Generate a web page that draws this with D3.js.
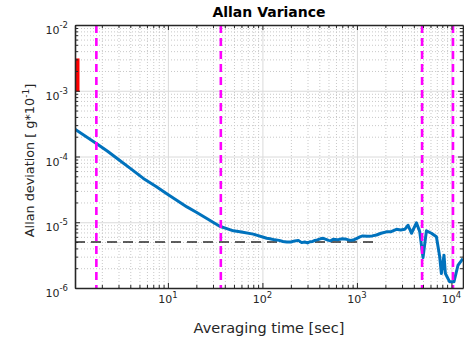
<!DOCTYPE html>
<html>
<head>
<meta charset="utf-8">
<script src="https://d3js.org/d3.v7.min.js"></script>
<style>
body { margin:0; background:#fff; }
svg { display:block; font-family:"DejaVu Sans", sans-serif; }
</style>
</head>
<body>
<svg id="drawing_region"></svg>
<script>
// averaging time [sec] and allan deviation
const tau = [1.04, 1.75, 2.3, 3.0, 4.0, 5.5, 7.5, 10, 12.5, 15.9, 20, 25.8, 30, 35.7, 42, 49.3,
    60, 80, 111, 120, 135, 150, 165, 181, 200, 220, 240, 260, 280, 300, 318, 340, 360, 380,
    410, 440, 470, 500, 530, 561, 620, 700, 780, 850, 912, 1000, 1074, 1150, 1300, 1450, 1611,
    1800, 2054, 2300, 2620, 2900, 3206, 3475, 3776, 4260, 4617, 5003, 5433, 6138, 6934, 7506,
    7824, 8337, 8625, 9575, 10620, 11710, 13220];
const adev = [2.59e-4, 1.58e-4, 1.2e-4, 9.0e-5, 6.6e-5, 4.64e-5, 3.5e-5, 2.65e-5, 2.15e-5,
    1.71e-5, 1.42e-5, 1.14e-5, 1.0e-5, 8.6e-6, 8.0e-6, 7.4e-6, 7.1e-6, 6.6e-6, 5.7e-6, 5.6e-6,
    5.4e-6, 5.3e-6, 5.1e-6, 5.0e-6, 5.0e-6, 5.2e-6, 5.3e-6, 4.9e-6, 5.0e-6, 4.85e-6, 5.05e-6,
    5.1e-6, 5.3e-6, 5.4e-6, 5.6e-6, 5.7e-6, 5.5e-6, 5.3e-6, 5.25e-6, 5.5e-6, 5.4e-6, 5.6e-6,
    5.5e-6, 5.3e-6, 5.35e-6, 5.7e-6, 6.0e-6, 6.2e-6, 6.1e-6, 6.2e-6, 6.4e-6, 6.8e-6, 7.15e-6,
    7.2e-6, 7.8e-6, 7.6e-6, 7.8e-6, 9.0e-6, 6.8e-6, 9.8e-6, 7.2e-6, 2.9e-6, 7.4e-6, 6.8e-6,
    6.0e-6, 3.0e-6, 1.66e-6, 3.15e-6, 1.66e-6, 1.24e-6, 1.24e-6, 2.2e-6, 2.8e-6];

// vertical markers (magenta) and reference level (black dashed)
const marker_tau = [1.75, 36.3, 4890, 10380];
const ref_level = 5e-6;
const ref_tau = [1.04, 1610];
// red bar at the left edge
const red_tau = 1.04;
const red_range = [0.97e-3, 3.1e-3];

const x_domain = [1.04, 13250];
const y_domain = [1e-6, 1e-2];
const x_major = [10, 100, 1000, 10000];
const y_major = [1e-6, 1e-5, 1e-4, 1e-3, 1e-2];

var config = {
    width: 464,
    height: 337,
    margin: {top:25, right:1, bottom:49, left:75}
};

const svg = d3.select('#drawing_region')
    .attr('width', config.width)
    .attr('height', config.height);

const inner_width = config.width - config.margin.left - config.margin.right;
const inner_height = config.height - config.margin.top - config.margin.bottom;

const chart = svg.append('g')
    .attr('transform', `translate(${config.margin.left}, ${config.margin.top})`);

const xscale = d3.scaleLog().domain(x_domain).range([0, inner_width]);
const yscale = d3.scaleLog().domain(y_domain).range([inner_height, 0]);

// minor ticks 2..9 per decade inside the domain
function minors(dom) {
    let out = [];
    for (let e = Math.floor(Math.log10(dom[0])); e <= Math.ceil(Math.log10(dom[1])); e++) {
        for (let m = 2; m <= 9; m++) {
            let v = m * Math.pow(10, e);
            if (v > dom[0] && v < dom[1]) out.push(v);
        }
    }
    return out;
}
const x_minor = minors(x_domain);
const y_minor = minors(y_domain);

chart.append('defs').append('clipPath').attr('id', 'clip')
    .append('rect').attr('width', inner_width).attr('height', inner_height);

// grid
function grid(g, color, dash) {
    g.select('.domain').remove();
    g.selectAll('line').attr('stroke', color).attr('stroke-dasharray', dash);
}
chart.append('g')
    .attr('transform', `translate(0, ${inner_height})`)
    .call(d3.axisBottom(xscale).tickValues(x_minor).tickSize(-inner_height).tickFormat(''))
    .call(g => grid(g, '#c8c8c8', '1,2'));
chart.append('g')
    .call(d3.axisLeft(yscale).tickValues(y_minor).tickSize(-inner_width).tickFormat(''))
    .call(g => grid(g, '#c8c8c8', '1,2'));
chart.append('g')
    .attr('transform', `translate(0, ${inner_height})`)
    .call(d3.axisBottom(xscale).tickValues(x_major).tickSize(-inner_height).tickFormat(''))
    .call(g => grid(g, '#dadada', null));
chart.append('g')
    .call(d3.axisLeft(yscale).tickValues(y_major).tickSize(-inner_width).tickFormat(''))
    .call(g => grid(g, '#dadada', null));

const plot = chart.append('g').attr('clip-path', 'url(#clip)');

// reference level
plot.append('line')
    .attr('x1', xscale(ref_tau[0])).attr('x2', xscale(ref_tau[1]))
    .attr('y1', yscale(ref_level)).attr('y2', yscale(ref_level))
    .attr('stroke', '#2b2b2b').attr('stroke-width', 1.5)
    .attr('stroke-dasharray', '10,6');

// allan deviation curve
const line = d3.line()
    .x((d, i) => xscale(tau[i]))
    .y(d => yscale(d));
plot.append('path')
    .datum(adev)
    .attr('d', line)
    .attr('fill', 'none')
    .attr('stroke', '#0072BD')
    .attr('stroke-width', 3)
    .attr('stroke-linejoin', 'round');

plot.append('line')
    .attr('x1', xscale(red_tau)).attr('x2', xscale(red_tau))
    .attr('y1', yscale(red_range[0])).attr('y2', yscale(red_range[1]))
    .attr('stroke', '#ff0000').attr('stroke-width', 9);

plot.selectAll('.marker')
    .data(marker_tau)
    .enter()
    .append('line')
    .attr('x1', d => xscale(d)).attr('x2', d => xscale(d))
    .attr('y1', 0).attr('y2', inner_height)
    .attr('stroke', '#ff00ff').attr('stroke-width', 2.6)
    .attr('stroke-dasharray', '8,5');

// axes with inward ticks on all four sides
function ticks(g) {
    g.selectAll('text').remove();
    g.selectAll('line').attr('stroke', '#262626');
    g.select('.domain').attr('stroke', '#262626').attr('stroke-width', 1.6);
}
const sides = [
    {axis: d3.axisBottom(xscale), t: `translate(0, ${inner_height})`, major: x_major, minor: x_minor},
    {axis: d3.axisTop(xscale), t: 'translate(0, 0)', major: x_major, minor: x_minor},
    {axis: d3.axisLeft(yscale), t: 'translate(0, 0)', major: y_major, minor: y_minor},
    {axis: d3.axisRight(yscale), t: `translate(${inner_width}, 0)`, major: y_major, minor: y_minor}
];
sides.forEach(s => {
    chart.append('g').attr('transform', s.t)
        .call(s.axis.tickValues(s.minor).tickSizeInner(-3).tickSizeOuter(0).tickFormat(''))
        .call(g => { g.select('.domain').remove(); g.selectAll('line').attr('stroke', '#262626'); });
    chart.append('g').attr('transform', s.t)
        .call(s.axis.tickValues(s.major).tickSizeInner(-5).tickSizeOuter(0).tickFormat(''))
        .call(g => ticks(g));
});

// tick labels 10^n
const xlab = chart.selectAll('.xlab')
    .data(x_major)
    .enter()
    .append('text')
    .attr('x', d => xscale(d))
    .attr('y', inner_height + 15)
    .attr('text-anchor', 'middle')
    .attr('fill', '#262626')
    .attr('font-size', '11px');
xlab.append('tspan').text('10');
xlab.append('tspan').attr('dy', -5).attr('font-size', '8.5px').text(d => Math.round(Math.log10(d)));

const ylab = chart.selectAll('.ylab')
    .data(y_major)
    .enter()
    .append('text')
    .attr('x', -7)
    .attr('y', d => yscale(d) + 9)
    .attr('text-anchor', 'end')
    .attr('fill', '#262626')
    .attr('font-size', '11px');
ylab.append('tspan').text('10');
ylab.append('tspan').attr('dy', -6).attr('font-size', '8.5px').text(d => Math.round(Math.log10(d)));

// titles
svg.append('text')
    .attr('x', config.margin.left + inner_width / 2)
    .attr('y', 17)
    .attr('text-anchor', 'middle')
    .attr('font-size', '14px')
    .attr('font-weight', 'bold')
    .text('Allan Variance');

svg.append('text')
    .attr('x', config.margin.left + inner_width / 2)
    .attr('y', 333)
    .attr('text-anchor', 'middle')
    .attr('fill', '#262626')
    .attr('font-size', '14.5px')
    .text('Averaging time [sec]');

const ytitle = svg.append('text')
    .attr('transform', `translate(34, ${config.margin.top + inner_height / 2 + 4}) rotate(-90)`)
    .attr('text-anchor', 'middle')
    .attr('fill', '#262626')
    .attr('font-size', '12.8px');
ytitle.append('tspan').text('Allan deviation [ g*10');
ytitle.append('tspan').attr('dy', -5).attr('font-size', '9px').text('-1');
ytitle.append('tspan').attr('dy', 5).text(']');
</script>
</body>
</html>
